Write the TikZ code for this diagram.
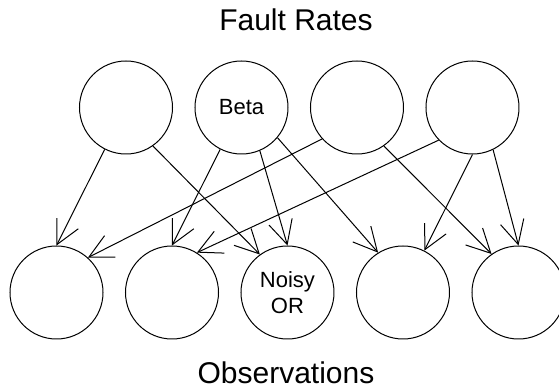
\documentclass[tikz,border=0pt]{standalone}
\usepackage{fontspec}
\setmainfont{Liberation Sans}
\usetikzlibrary{arrows.meta}

\begin{document}
\begin{tikzpicture}[
    x=0.5pt, y=0.5pt,
    var/.style={draw, circle, line width=0.5pt, minimum size=46.5pt, inner sep=0pt, align=center, font=\fontsize{11}{13.3}\selectfont},
    title/.style={font=\fontsize{15}{18}\selectfont, anchor=base},
    arr/.style={-{Straight Barb[length=11.8pt, width=12pt]}, line width=0.5pt},
]

\useasboundingbox (0, 0) rectangle (559, -390);

\node[title] (faultrates) at (296, -31) {Fault Rates};
\node[title] (observations) at (286, -384) {Observations};

% parent layer
\node[var] (rate1) at (126, -107.5) {};
\node[var] (beta) at (241.5, -107.5) {Beta};
\node[var] (rate3) at (357, -107.5) {};
\node[var] (rate4) at (472.5, -107.5) {};

% child layer
\node[var] (obs1) at (56.5, -292.5) {};
\node[var] (obs2) at (172, -292.5) {};
\node[var] (noisyor) at (287.5, -292.5) {Noisy\\OR};
\node[var] (obs4) at (403, -292.5) {};
\node[var] (obs5) at (518.5, -292.5) {};

\draw[arr] (rate1.243) -- (obs1.north);
\draw[arr] (rate1.305) -- (noisyor.126);
\draw[arr] (beta.243) -- (obs2.north);
\draw[arr] (beta.293) -- (noisyor.north);
\draw[arr] (beta.320) -- (obs4.122);
\draw[arr] (rate3.222) -- (obs1.48);
\draw[arr] (rate3.305) -- (obs5.125);
\draw[arr] (rate4.224) -- (obs2.58);
\draw[arr] (rate4.south) -- (obs4.63);
\draw[arr] (rate4.296) -- (obs5.north);

\end{tikzpicture}
\end{document}
